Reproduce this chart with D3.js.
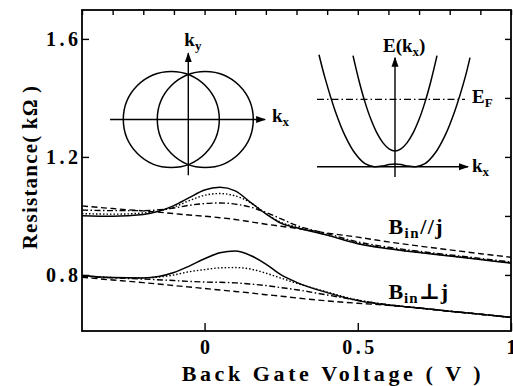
<!DOCTYPE html>
<html>
<head>
<meta charset="utf-8">
<script src="https://cdn.jsdelivr.net/npm/d3@7"></script>
<style>
  body { margin: 0; background: #fff; }
  svg { display: block; }
  svg text { font-family: "Liberation Serif", "Times New Roman", Times, "DejaVu Serif", serif !important; font-weight: bold; fill: #000; }
</style>
</head>
<body>
<svg width="513" height="386"></svg>
<script>
// valores
const volts = [-0.4, -0.3, -0.2, -0.1, -0.05, 0, 0.05, 0.1, 0.15, 0.2, 0.25, 0.3, 0.4, 0.5, 0.6, 0.7, 0.8, 0.9, 1.0];

// B_in // j
const parSolid   = [1.001, 0.999, 1.005, 1.035, 1.062, 1.088, 1.097, 1.085, 1.046, 1.007, 0.975, 0.960, 0.935, 0.906, 0.889, 0.876, 0.864, 0.852, 0.840];
const parDotted  = [1.008, 1.006, 1.010, 1.030, 1.052, 1.070, 1.076, 1.068, 1.045, 1.008, 0.978, 0.962, 0.936, 0.908, 0.890, 0.877, 0.865, 0.853, 0.841];
const parDashDot = [1.020, 1.018, 1.018, 1.027, 1.036, 1.042, 1.044, 1.040, 1.030, 1.012, 0.990, 0.968, 0.940, 0.912, 0.894, 0.880, 0.868, 0.856, 0.844];
const parDashed  = [1.034, 1.025, 1.017, 1.008, 1.003, 0.999, 0.994, 0.988, 0.980, 0.972, 0.965, 0.958, 0.942, 0.928, 0.912, 0.898, 0.885, 0.872, 0.860];

// B_in ⊥ j
const perpSolid   = [0.798, 0.791, 0.790, 0.808, 0.830, 0.855, 0.875, 0.881, 0.866, 0.837, 0.800, 0.775, 0.740, 0.713, 0.698, 0.688, 0.677, 0.667, 0.656];
const perpDotted  = [0.798, 0.791, 0.790, 0.800, 0.811, 0.818, 0.824, 0.825, 0.820, 0.806, 0.789, 0.772, 0.742, 0.715, 0.699, 0.688, 0.677, 0.667, 0.656];
const perpDashDot = [0.795, 0.790, 0.786, 0.781, 0.778, 0.776, 0.775, 0.773, 0.769, 0.764, 0.757, 0.750, 0.732, 0.714, 0.699, 0.688, 0.677, 0.667, 0.656];
const perpDashed  = [0.792, 0.783, 0.774, 0.764, 0.759, 0.754, 0.749, 0.744, 0.739, 0.733, 0.728, 0.722, 0.712, 0.704, 0.697, 0.688, 0.677, 0.667, 0.656];

const xTicksMajor = [0, 0.5, 1];
const xTicksMinor = d3.range(-0.4, 1.001, 0.1).map(v => +v.toFixed(1));
const yTicksMajor = [0.8, 1.2, 1.6];
const yTicksAll = [0.8, 1.0, 1.2, 1.4, 1.6];

// inset izquierdo: dos circulos de Fermi desplazados
const fermiCenters = [-0.354, 0.354];
const fermiRadius = 1;

// inset derecho: bandas E(kx)
const upperK = [-4.2, -3.6, -3.0, -2.4, -1.8, -1.2, -0.6, 0, 0.6, 1.2, 1.8, 2.4, 3.0, 3.6, 4.2];
const upperE = [11.1, 8.6, 6.46, 4.71, 3.35, 2.38, 1.79, 1.57, 1.79, 2.38, 3.35, 4.71, 6.46, 8.6, 11.1];
const lowerK = [-7.6, -7.0, -6.0, -5.0, -4.0, -3.0, -2.1, -1.2, -0.6, 0, 0.6, 1.2, 2.1, 3.0, 4.0, 5.0, 6.0, 7.0, 7.5];
const lowerE = [11.2, 8.88, 5.63, 3.11, 1.34, 0.30, 0.0, 0.08, 0.22, 0.28, 0.22, 0.08, 0.0, 0.30, 1.34, 3.11, 5.63, 8.88, 10.9];
const fermiLevel = 6.74;

const svg = d3.select('svg');
const margin = { left: 82, right: 2, top: 10, bottom: 55 };
const width = 513, height = 386;

const x = d3.scaleLinear().domain([-0.4, 1]).range([margin.left, width - margin.right]);
const y = d3.scaleLinear().domain([0.61, 1.698]).range([height - margin.bottom, margin.top]);

// flechas
svg.append('defs').append('marker')
    .attr('id', 'arrow')
    .attr('markerUnits', 'userSpaceOnUse')
    .attr('markerWidth', 10).attr('markerHeight', 8)
    .attr('refX', 9).attr('refY', 4)
    .attr('orient', 'auto')
    .append('path').attr('d', 'M0,0.5 L10,4 L0,7.5 Z').attr('fill', '#000');

// ejes (ticks hacia dentro)
const gx = svg.append('g').attr('transform', `translate(0,${y.range()[0]})`);
gx.call(d3.axisBottom(x).tickValues(xTicksMinor).tickSize(-4).tickFormat(''));
gx.call(d3.axisBottom(x).tickValues(xTicksMajor).tickSize(-8).tickPadding(9).tickFormat(d3.format('')));

const gxTop = svg.append('g').attr('transform', `translate(0,${y.range()[1]})`);
gxTop.call(d3.axisTop(x).tickValues(xTicksMinor).tickSize(-5).tickFormat(''));

const gy = svg.append('g').attr('transform', `translate(${x.range()[0]},0)`);
gy.call(d3.axisLeft(y).tickValues(yTicksAll).tickSize(-4).tickFormat(''));
gy.call(d3.axisLeft(y).tickValues(yTicksMajor).tickSize(-7).tickPadding(0).tickFormat(d3.format('.1f')));

const gyRight = svg.append('g').attr('transform', `translate(${x.range()[1]},0)`);
gyRight.call(d3.axisRight(y).tickValues(yTicksAll).tickSize(-6).tickFormat(''));

svg.selectAll('.domain').remove();
svg.selectAll('g').attr('font-family', null).attr('font-size', null);
svg.selectAll('.tick line').attr('stroke', '#000').attr('stroke-width', 1.4);
svg.selectAll('.tick text').attr('font-size', 20)
    .style('letter-spacing', '3.5px');
gy.selectAll('.tick text').attr('x', -4 + 3.5);
gx.selectAll('.tick text').attr('dx', 1.75);

// marco
svg.append('rect')
    .attr('x', x.range()[0]).attr('y', y.range()[1])
    .attr('width', x.range()[1] - x.range()[0])
    .attr('height', y.range()[0] - y.range()[1])
    .attr('fill', 'none').attr('stroke', '#000').attr('stroke-width', 1.8);

// curvas
const line = d3.line()
    .x(d => x(d[0]))
    .y(d => y(d[1]))
    .curve(d3.curveMonotoneX);

const styles = {
    solid: null,
    dotted: '1.5,2',
    dashdot: '6,2.5,1.5,2.5',
    dashed: '6,3.5'
};

const series = [
    { values: parDashed, style: 'dashed' },
    { values: parDashDot, style: 'dashdot' },
    { values: parDotted, style: 'dotted' },
    { values: parSolid, style: 'solid' },
    { values: perpDashed, style: 'dashed' },
    { values: perpDashDot, style: 'dashdot' },
    { values: perpDotted, style: 'dotted' },
    { values: perpSolid, style: 'solid' }
];

svg.append('g').selectAll('path')
    .data(series)
    .enter().append('path')
    .attr('d', s => line(volts.map((v, i) => [v, s.values[i]])))
    .attr('fill', 'none')
    .attr('stroke', '#000')
    .attr('stroke-width', s => s.style === 'solid' ? 1.5 : 1.4)
    .attr('stroke-dasharray', s => styles[s.style]);

// etiquetas de las curvas
function subLabel(px, py, main, sub, rest, size) {
    const t = svg.append('text').attr('x', px).attr('y', py).attr('font-size', size);
    t.append('tspan').text(main);
    t.append('tspan').attr('font-size', Math.round(size * 0.7)).attr('dy', 4).text(sub);
    if (rest) t.append('tspan').attr('dy', -4).text(rest);
    return t;
}
subLabel(x(0.6), 234, 'B', 'in', '//j', 22).style('letter-spacing', '1.5px');
subLabel(x(0.6), 299, 'B', 'in', '⊥j', 22).style('letter-spacing', '1px');

// inset izquierdo
const kx = d3.scaleLinear().domain([-1, 1]).range([140.3, 236.3]);
const ky = d3.scaleLinear().domain([-1, 1]).range([167.5, 71.5]);

const leftInset = svg.append('g');
leftInset.selectAll('circle')
    .data(fermiCenters)
    .enter().append('circle')
    .attr('cx', c => kx(c)).attr('cy', ky(0))
    .attr('r', kx(fermiRadius) - kx(0))
    .attr('fill', 'none').attr('stroke', '#000').attr('stroke-width', 1.5);
leftInset.append('line')
    .attr('x1', kx(-1.63)).attr('x2', kx(1.6))
    .attr('y1', ky(0)).attr('y2', ky(0))
    .attr('stroke', '#000').attr('stroke-width', 1.4).attr('marker-end', 'url(#arrow)');
leftInset.append('line')
    .attr('x1', kx(0)).attr('x2', kx(0))
    .attr('y1', ky(-1.16)).attr('y2', ky(1.38))
    .attr('stroke', '#000').attr('stroke-width', 1.4).attr('marker-end', 'url(#arrow)');

subLabel(kx(0) - 4, 46, 'k', 'y', '', 19);
subLabel(272, 122, 'k', 'x', '', 19);

// inset derecho
const bk = d3.scaleLinear().domain([-1, 1]).range([385, 405]);
const bE = d3.scaleLinear().domain([0, 1]).range([166.7, 156.7]);

const bandLine = d3.line()
    .x(d => bk(d[0]))
    .y(d => bE(d[1]))
    .curve(d3.curveCatmullRom);

const rightInset = svg.append('g');
rightInset.selectAll('path.band')
    .data([[upperK, upperE], [lowerK, lowerE]])
    .enter().append('path')
    .attr('class', 'band')
    .attr('d', b => bandLine(b[0].map((k, i) => [k, b[1][i]])))
    .attr('fill', 'none').attr('stroke', '#000').attr('stroke-width', 1.5);
rightInset.append('line')
    .attr('x1', bk(-7.8)).attr('x2', bk(7.3))
    .attr('y1', bE(0)).attr('y2', bE(0))
    .attr('stroke', '#000').attr('stroke-width', 1.4).attr('marker-end', 'url(#arrow)');
rightInset.append('line')
    .attr('x1', bk(0)).attr('x2', bk(0))
    .attr('y1', bE(-1.03)).attr('y2', bE(10.9))
    .attr('stroke', '#000').attr('stroke-width', 1.4).attr('marker-end', 'url(#arrow)');
rightInset.append('line')
    .attr('x1', bk(-7.8)).attr('x2', bk(7.0))
    .attr('y1', bE(fermiLevel)).attr('y2', bE(fermiLevel))
    .attr('stroke', '#000').attr('stroke-width', 1.3).attr('stroke-dasharray', '7,3,1.5,3');

const eLabel = svg.append('text').attr('x', 383).attr('y', 52).attr('font-size', 19);
eLabel.append('tspan').text('E(k');
eLabel.append('tspan').attr('font-size', 13).attr('dy', 4).text('x');
eLabel.append('tspan').attr('dy', -4).text(')');
subLabel(472, 103, 'E', 'F', '', 19);
subLabel(472, 172, 'k', 'x', '', 19);

// titulos de ejes
svg.append('text')
    .attr('x', 333).attr('y', 381)
    .attr('text-anchor', 'middle')
    .attr('font-size', 22)
    .style('letter-spacing', '3.6px')
    .text('Back Gate Voltage ( V )');

svg.append('text')
    .attr('transform', 'translate(37,167) rotate(-90)')
    .attr('text-anchor', 'middle')
    .attr('font-size', 21)
    .style('letter-spacing', '1.2px')
    .text('Resistance(\u2009kΩ\u2009)');
</script>
</body>
</html>
